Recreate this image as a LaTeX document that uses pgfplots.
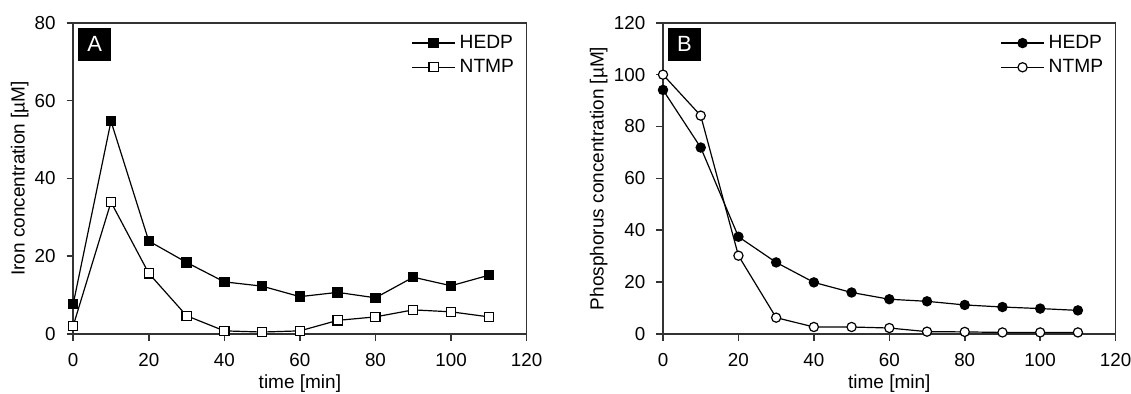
\documentclass[border=0pt]{standalone}
\usepackage{fontspec}
\setmainfont{Liberation Sans}
\usepackage{pgfplots}
\pgfplotsset{compat=1.18}
\begin{document}
\begin{tikzpicture}[x=1pt,y=1pt]
\pgfplotsset{
 every axis/.append style={
  scale only axis, height=155.6pt,
  xmin=0, xmax=120, xtick={0,20,...,120},
  axis line style={color=black!80, line width=0.8pt},
  tick style={color=black!80, line width=0.8pt},
  tick align=outside, xtick pos=bottom, ytick pos=left, major tick length=3.3pt,
  font=\fontsize{9.4}{11}\selectfont,
  /pgf/number format/assume math mode=true,
  xticklabel style={yshift=-3pt},
  yticklabel style={xshift=-2pt},
  xlabel={time [min]},
  xlabel style={at={(axis description cs:0.5,-0.159)}, anchor=center, font=\fontsize{9.5}{11}\selectfont},
  ylabel style={font=\fontsize{9.5}{11}\selectfont},
  legend style={draw=none, fill=none, at={(0.982,0.975)}, anchor=north east,
     font=\fontsize{9.6}{11}\selectfont, row sep=0pt, inner sep=0pt},
  legend cell align=left,
  legend image code/.code={\draw[mark repeat=2,mark phase=2,#1] plot coordinates {(0pt,0pt) (10.75pt,0pt) (21.5pt,0pt)};},
  every axis plot/.append style={black, line width=0.6pt, mark size=2.3pt, mark options={solid, line width=0.6pt}},
 }
}
\begin{axis}[at={(36.6pt,30pt)}, anchor=south west, width=226.7pt,
  ymin=0, ymax=80, ytick={0,20,...,80},
  ylabel={Iron concentration [µM]},
  ylabel style={at={(axis description cs:-0.118,0.5)}, anchor=center}]
\addplot[mark=square*, mark options={fill=black}] coordinates {
(0,7.7) (10,54.7) (20,23.9) (30,18.4) (40,13.4) (50,12.3) (60,9.6) (70,10.7) (80,9.3) (90,14.6) (100,12.4) (110,15.1)};
\addlegendentry{HEDP}
\addplot[mark=square*, mark options={fill=white}] coordinates {
(0,2.1) (10,33.9) (20,15.6) (30,4.7) (40,0.8) (50,0.5) (60,0.8) (70,3.5) (80,4.4) (90,6.2) (100,5.7) (110,4.4)};
\addlegendentry{NTMP}
\node[fill=black, text=white, anchor=north west, minimum width=16.5pt, minimum height=16.5pt, inner sep=0pt, font=\fontsize{11}{12}\selectfont] at (rel axis cs:0.01,0.985) {A};
\end{axis}
\begin{axis}[at={(331.5pt,30pt)}, anchor=south west, width=226.3pt,
  ymin=0, ymax=120, ytick={0,20,...,120},
  ylabel={Phosphorus concentration [µM]},
  ylabel style={at={(axis description cs:-0.142,0.5)}, anchor=center}]
\addplot[mark=*, mark options={fill=black}] coordinates {
(0,94.1) (10,71.9) (20,37.5) (30,27.6) (40,19.9) (50,16.0) (60,13.4) (70,12.6) (80,11.2) (90,10.4) (100,9.8) (110,9.1)};
\addlegendentry{HEDP}
\addplot[mark=*, mark options={fill=white}] coordinates {
(0,100) (10,84.2) (20,30.2) (30,6.3) (40,2.7) (50,2.7) (60,2.3) (70,0.9) (80,0.8) (90,0.6) (100,0.6) (110,0.6)};
\addlegendentry{NTMP}
\node[fill=black, text=white, anchor=north west, minimum width=16.5pt, minimum height=16.5pt, inner sep=0pt, font=\fontsize{11}{12}\selectfont] at (rel axis cs:0.01,0.985) {B};
\end{axis}
\pgfresetboundingbox
\useasboundingbox (0,0) rectangle (565.5,197);
\end{tikzpicture}
\end{document}
